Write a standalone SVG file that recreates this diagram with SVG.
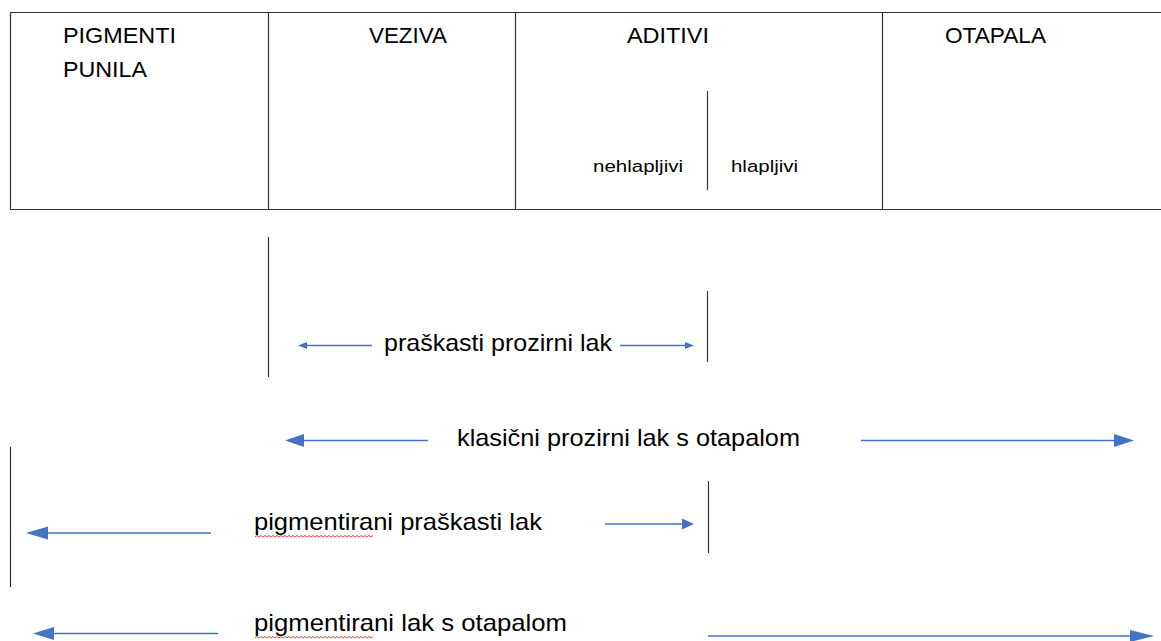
<svg xmlns="http://www.w3.org/2000/svg" width="1161" height="641" viewBox="0 0 1161 641">
<style>
.t{font-family:"Liberation Sans",Arial,sans-serif;fill:#000}
.h{font-size:22px}
.s{font-size:16px}
.m{font-size:24px}
.bl{stroke:#333;stroke-width:1.2;fill:none}
.ar{stroke:#4472C4;stroke-width:1.5;fill:none}
.ah{fill:#4472C4;stroke:none}
.sq{stroke:#e03030;stroke-width:0.9;fill:none}
</style>
<rect width="1161" height="641" fill="#fff"/>
<g id="table">
<path class="bl" d="M10.5 12.5H1161M10.5 209.5H1161M10.5 12.5V209.5M268.5 12.5V209.5M515.5 12.5V209.5M882.5 12.5V209.5"/>
</g>
<g id="pigmenti"><text class="t h" x="63" y="43" textLength="113" lengthAdjust="spacingAndGlyphs">PIGMENTI</text><text class="t h" x="63" y="77" textLength="84" lengthAdjust="spacingAndGlyphs">PUNILA</text></g>
<g id="veziva"><text class="t h" x="369" y="43" textLength="78" lengthAdjust="spacingAndGlyphs">VEZIVA</text></g>
<g id="aditivi"><text class="t h" x="627" y="43" textLength="82" lengthAdjust="spacingAndGlyphs">ADITIVI</text>
<path class="bl" d="M707.5 91V190"/>
<text class="t s" x="593" y="172" textLength="90" lengthAdjust="spacingAndGlyphs">nehlapljivi</text>
<text class="t s" x="731" y="172" textLength="67" lengthAdjust="spacingAndGlyphs">hlapljivi</text></g>
<g id="otapala"><text class="t h" x="945" y="43" textLength="101" lengthAdjust="spacingAndGlyphs">OTAPALA</text></g>
<g id="markers">
<path class="bl" d="M268.5 237V377"/>
<path class="bl" d="M707.5 291V362"/>
<path class="bl" d="M10.5 447V587"/>
<path class="bl" d="M708.5 481V553"/>
</g>
<g id="labels">
<text class="t m" x="384" y="351" textLength="228" lengthAdjust="spacingAndGlyphs">praškasti prozirni lak</text>
<text class="t m" x="457" y="446" textLength="343" lengthAdjust="spacingAndGlyphs">klasični prozirni lak s otapalom</text>
<text class="t m" x="254" y="530" textLength="288" lengthAdjust="spacingAndGlyphs">pigmentirani praškasti lak</text>
<text class="t m" x="254" y="631" textLength="313" lengthAdjust="spacingAndGlyphs">pigmentirani lak s otapalom</text>
<path class="sq" d="M255 537l2 -1.5l2 1.5l2 -1.5l2 1.5l2 -1.5l2 1.5l2 -1.5l2 1.5l2 -1.5l2 1.5l2 -1.5l2 1.5l2 -1.5l2 1.5l2 -1.5l2 1.5l2 -1.5l2 1.5l2 -1.5l2 1.5l2 -1.5l2 1.5l2 -1.5l2 1.5l2 -1.5l2 1.5l2 -1.5l2 1.5l2 -1.5l2 1.5l2 -1.5l2 1.5l2 -1.5l2 1.5l2 -1.5l2 1.5l2 -1.5l2 1.5l2 -1.5l2 1.5l2 -1.5l2 1.5l2 -1.5l2 1.5l2 -1.5l2 1.5l2 -1.5l2 1.5l2 -1.5l2 1.5l2 -1.5l2 1.5l2 -1.5l2 1.5l2 -1.5l2 1.5l2 -1.5l2 1.5l2 -1.5"/>
<path class="sq" d="M255 638l2 -1.5l2 1.5l2 -1.5l2 1.5l2 -1.5l2 1.5l2 -1.5l2 1.5l2 -1.5l2 1.5l2 -1.5l2 1.5l2 -1.5l2 1.5l2 -1.5l2 1.5l2 -1.5l2 1.5l2 -1.5l2 1.5l2 -1.5l2 1.5l2 -1.5l2 1.5l2 -1.5l2 1.5l2 -1.5l2 1.5l2 -1.5l2 1.5l2 -1.5l2 1.5l2 -1.5l2 1.5l2 -1.5l2 1.5l2 -1.5l2 1.5l2 -1.5l2 1.5l2 -1.5l2 1.5l2 -1.5l2 1.5l2 -1.5l2 1.5l2 -1.5l2 1.5l2 -1.5l2 1.5l2 -1.5l2 1.5l2 -1.5l2 1.5l2 -1.5l2 1.5l2 -1.5l2 1.5l2 -1.5"/>
</g>
<g id="connectors">
<path class="ar" d="M372 345.5H305"/><polygon class="ah" points="298,345.5 307,342 307,349"/>
<path class="ar" d="M620 345.5H686"/><polygon class="ah" points="694,345.5 685,342 685,349"/>
<path class="ar" d="M428 440.5H300"/><polygon class="ah" points="285,440.5 304,434 304,447"/>
<path class="ar" d="M861 440.5H1115"/><polygon class="ah" points="1134,440.5 1114,434 1114,447"/>
<path class="ar" d="M211 533H44"/><polygon class="ah" points="26,533 48,526.5 48,539.5"/>
<path class="ar" d="M605 524H684"/><polygon class="ah" points="694,524 682,518.5 682,529.5"/>
<path class="ar" d="M218 633.5H52"/><polygon class="ah" points="33,633.5 54,627 54,640"/>
<path class="ar" d="M708 636H1130"/><polygon class="ah" points="1154,636 1130,630 1130,642"/>
</g>
</svg>
